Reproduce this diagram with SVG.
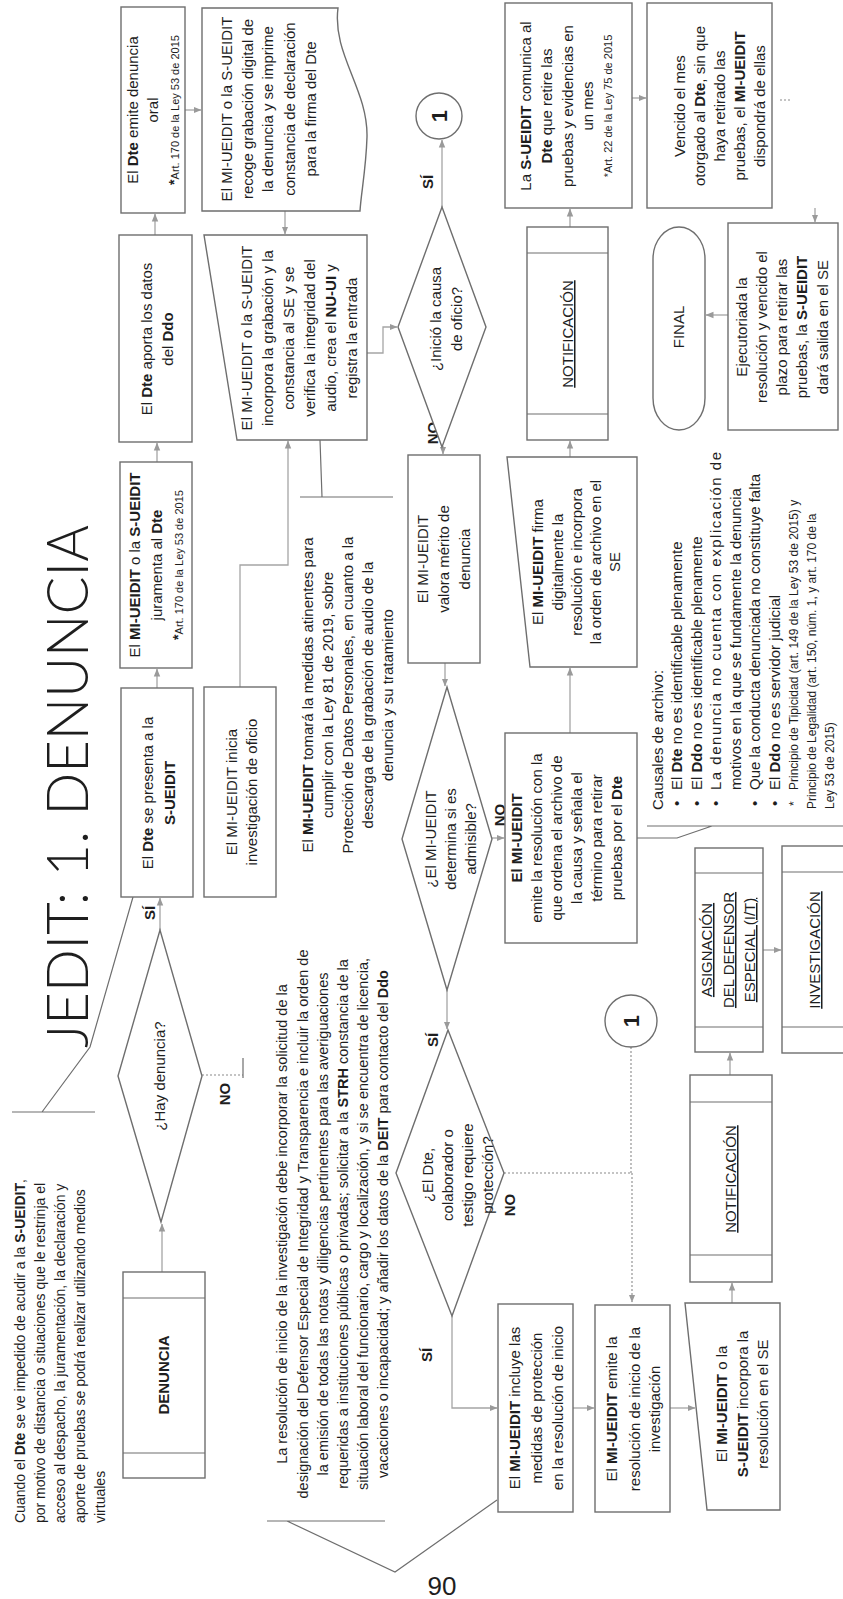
<svg xmlns="http://www.w3.org/2000/svg" width="843" height="1599" viewBox="0 0 843 1599">
<defs>
<style>
text{font-family:"Liberation Sans",Arial,sans-serif;fill:#1e1e1e;font-size:15px}
.c{text-anchor:middle}
.sm{font-size:11px}
.sm2{font-size:12px}
.p{font-size:14.5px}
.q{font-size:14px}
.b{font-weight:bold}
.u{text-decoration:underline}
.one{font-size:22px;font-weight:bold}
.ttl{font-family:Lato,"Liberation Sans",sans-serif;font-size:57px;font-weight:300}
.box{fill:#fff;stroke:#6e6e6e;stroke-width:1.4}
.ln{fill:none;stroke:#6e6e6e;stroke-width:1.2}
.ar{fill:none;stroke:#a5a5a5;stroke-width:1.3;marker-end:url(#ah)}
.ard{fill:none;stroke:#8a8a8a;stroke-width:1.1;stroke-dasharray:2 2;marker-end:url(#ah)}
.dl{fill:none;stroke:#8a8a8a;stroke-width:1.1;stroke-dasharray:2 2}
.lbl{font-weight:bold;font-size:15px}
</style>
<marker id="ah" viewBox="0 0 8 8" markerWidth="8" markerHeight="8" refX="7.5" refY="4" orient="auto" markerUnits="userSpaceOnUse"><path d="M0,0.8 L8,4 L0,7.2 Z" fill="#9a9a9a"/></marker>
</defs>
<rect width="843" height="1599" fill="#fff"/>
<g id="page" transform="translate(0,1599) rotate(-90)">
<text id="title" class="ttl" x="551" y="88" textLength="523" lengthAdjust="spacingAndGlyphs">JEDIT: 1. DENUNCIA</text>

<g id="connectors">
<path class="ar" d="M327,162 H375"/>
<path class="ar" d="M669,160 H701"/>
<path class="dl" d="M524,202 V243"/>
<path class="ln" d="M521,243 H541"/>
<path class="ar" d="M911,157 H930"/>
<path class="ar" d="M1137,157 H1156"/>
<path class="ar" d="M1364,155 H1385"/>
<path class="ar" d="M1489,185 V201"/>
<path class="ar" d="M1388,285 H1365"/>
<path class="ar" d="M912,240 H1034 V288 H1158"/>
<path class="ar" d="M1246,367 V383 H1272 V397"/>
<path class="ar" d="M1392,442 H1459"/>
<path class="ar" d="M1153,443 H1145"/>
<path class="ar" d="M936,445 H913"/>
<path class="ar" d="M761,492 V504"/>
<path class="ar" d="M609,447 H570"/>
<path class="ar" d="M283,452 H191 V497"/>
<path class="ard" d="M426,504 V632 H297"/>
<path class="dl" d="M552,631 H426"/>
<path class="ar" d="M191,573 V594"/>
<path class="ar" d="M191,670 V695"/>
<path class="ar" d="M296,732 H316"/>
<path class="ar" d="M524,730 H546"/>
<path class="ar" d="M649,763 V781"/>
<path class="ar" d="M866,570 H931"/>
<path class="ar" d="M1142,570 H1158"/>
<path class="ar" d="M1372,570 H1390"/>
<path class="ar" d="M1501,632 V646"/>
<path class="ar" d="M1391,815 H1377"/>
<path class="ar" d="M1284,728 V706"/>
<path class="dl" d="M1499,780 V790"/>
<text class="lbl c" x="686" y="155">SÍ</text>
<text class="lbl c" x="505" y="230">NO</text>
<text class="lbl c" x="1417" y="433">SÍ</text>
<text class="lbl c" x="1166" y="438">NO</text>
<text class="lbl c" x="784" y="505">NO</text>
<text class="lbl c" x="559" y="438">SÍ</text>
<text class="lbl c" x="244" y="432">SÍ</text>
<text class="lbl c" x="394" y="515">NO</text>
</g>

<g id="notes">
<path class="ln" d="M487,12 V95 M487,42 L552,90 L702,133"/>
<text class="q" x="76" y="25">Cuando el <tspan class="b">Dte</tspan> se ve impedido de acudir a la <tspan class="b">S-UEIDIT</tspan>,</text>
<text class="q" x="76" y="45">por motivo de distancia o situaciones que le restrinja el</text>
<text class="q" x="76" y="65">acceso al despacho, la juramentación, la declaración y</text>
<text class="q" x="76" y="85">aporte de pruebas se podrá realizar utilizando medios</text>
<text class="q" x="76" y="105">virtuales</text>

<path class="ln" d="M78,267 V385 M78,287 L27,395 L99,497"/>
<text class="p c" x="375" y="287">La resolución de inicio de la investigación debe incorporar la solicitud de la</text>
<text class="p c" x="375" y="308">designación del Defensor Especial de Integridad y Transparencia e incluir la orden de</text>
<text class="p c" x="375" y="328">la emisión de todas las notas y diligencias pertinentes para las averiguaciones</text>
<text class="p c" x="375" y="348">requeridas a instituciones públicas o privadas; solicitar a la <tspan class="b">STRH</tspan> constancia de la</text>
<text class="p c" x="375" y="368">situación laboral del funcionario, cargo y localización, y si se encuentra de licencia,</text>
<text class="p c" x="375" y="388">vacaciones o incapacidad; y añadir los datos de la <tspan class="b">DEIT</tspan> para contacto del <tspan class="b">Ddo</tspan></text>

<path class="ln" d="M1102,300 V393 M1102,322 L1159,320"/>
<text class="c" x="904" y="313">El <tspan class="b">MI-UEIDIT</tspan> tomará la medidas atinentes para</text>
<text class="c" x="904" y="333">cumplir con la Ley 81 de 2019, sobre</text>
<text class="c" x="904" y="353">Protección de Datos Personales, en cuanto a la</text>
<text class="c" x="904" y="373">descarga de la grabación de audio de la</text>
<text class="c" x="904" y="393">denuncia y su tratamiento</text>

<path class="ln" d="M773,647 V850 M773,712 L761,677 V637"/>
<text x="789" y="663">Causales de archivo:</text>
<text x="793" y="682">•</text><text x="809" y="682">El <tspan class="b">Dte</tspan> no es identificable plenamente</text>
<text x="793" y="702">•</text><text x="809" y="702">El <tspan class="b">Ddo</tspan> no es identificable plenamente</text>
<text x="793" y="721">•</text><text x="809" y="721" textLength="338" lengthAdjust="spacing">La denuncia no cuenta con explicación de</text>
<text x="809" y="741">motivos en la que se fundamente la denuncia</text>
<text x="793" y="760">•</text><text x="809" y="760">Que la conducta denunciada no constituye falta</text>
<text x="793" y="780">•</text><text x="809" y="780">El <tspan class="b">Ddo</tspan> no es servidor judicial</text>
<text class="sm2" x="793" y="798">*</text><text class="sm2" x="809" y="798">Principio de Tipicidad (art. 149 de la Ley 53 de 2015) y</text>
<text class="sm2" x="790" y="816">Principio de Legalidad (art. 150, núm. 1, y art. 170 de la</text>
<text class="sm2" x="790" y="834">Ley 53 de 2015)</text>
</g>

<g id="n-denuncia"><rect class="box" x="121" y="123" width="206" height="82"/><path class="ln" d="M146,123 V205 M301,123 V205"/><text class="c b" x="224" y="169">DENUNCIA</text></g>
<g id="n-hay"><polygon class="box" points="377,161 523,118 669,160 523,202"/><text class="c" x="523" y="165">¿Hay denuncia?</text></g>
<g id="n-presenta"><rect class="box" x="702" y="121" width="209" height="72"/><text class="c" x="806" y="153">El <tspan class="b">Dte</tspan> se presenta a la</text><text class="c b" x="806" y="175">S-UEIDIT</text></g>
<g id="n-juramenta"><rect class="box" x="931" y="120" width="206" height="72"/><text class="c" x="1034" y="140">El <tspan class="b">MI-UEIDIT</tspan> o la <tspan class="b">S-UEIDIT</tspan></text><text class="c" x="1034" y="162">juramenta al <tspan class="b">Dte</tspan></text><text class="c sm" x="1034" y="183"><tspan font-weight="bold" font-size="14">*</tspan>Art. 170 de la Ley 53 de 2015</text></g>
<g id="n-aporta"><rect class="box" x="1157" y="119" width="207" height="73"/><text class="c" x="1260" y="152">El <tspan class="b">Dte</tspan> aporta los datos</text><text class="c" x="1260" y="173">del <tspan class="b">Ddo</tspan></text></g>
<g id="n-emite-oral"><rect class="box" x="1386" y="121" width="206" height="64"/><text class="c" x="1489" y="138">El <tspan class="b">Dte</tspan> emite denuncia</text><text class="c" x="1489" y="158">oral</text><text class="c sm" x="1489" y="179"><tspan font-weight="bold" font-size="14">*</tspan>Art. 170 de la Ley 53 de 2015</text></g>
<g id="n-recoge"><path class="box" d="M1388,202 H1591 V338 C1545,332 1510,368 1462,367 C1430,366 1405,361 1388,360 Z"/>
<text class="c" x="1490" y="232">El MI-UEIDIT o la S-UEIDIT</text>
<text class="c" x="1490" y="253">recoge grabación digital de</text>
<text class="c" x="1490" y="273">la denuncia y se imprime</text>
<text class="c" x="1490" y="295">constancia de declaración</text>
<text class="c" x="1490" y="316">para la firma del Dte</text></g>
<g id="n-incorpora"><polygon class="box" points="1159,237 1364,204 1364,367 1159,367"/>
<text class="c" x="1261" y="252">El MI-UEIDIT o la S-UEIDIT</text>
<text class="c" x="1261" y="273">incorpora la grabación y la</text>
<text class="c" x="1261" y="294">constancia al SE y se</text>
<text class="c" x="1261" y="315">verifica la integridad del</text>
<text class="c" x="1261" y="336">audio, crea el <tspan class="b">NU-UI</tspan> y</text>
<text class="c" x="1261" y="357">registra la entrada</text></g>
<g id="n-inicia"><rect class="box" x="702" y="204" width="210" height="72"/><text class="c" x="807" y="237">El MI-UEIDIT inicia</text><text class="c" x="807" y="257">investigación de oficio</text></g>
<g id="n-inicio-causa"><polygon class="box" points="1152,442 1272,398 1392,442 1272,486"/><text class="c" x="1280" y="441">¿Inició la causa</text><text class="c" x="1280" y="462">de oficio?</text></g>
<g id="n-c1a"><circle class="box" cx="1483" cy="439" r="23"/><text class="c one" x="1483" y="447">1</text></g>
<g id="n-valora"><rect class="box" x="936" y="408" width="208" height="72"/><text class="c" x="1040" y="428">El MI-UEIDIT</text><text class="c" x="1040" y="449">valora mérito de</text><text class="c" x="1040" y="470">denuncia</text></g>
<g id="n-admisible"><polygon class="box" points="609,447 760,402 912,447 760,492"/><text class="c" x="760" y="436">¿El MI-UEIDIT</text><text class="c" x="760" y="456">determina si es</text><text class="c" x="760" y="476">admisible?</text></g>
<g id="n-archivo"><rect class="box" x="656" y="505" width="210" height="132"/>
<text class="c b" x="761" y="522">El MI-UEIDIT</text>
<text class="c" x="761" y="542">emite la resolución con la</text>
<text class="c" x="761" y="562">que ordena el archivo de</text>
<text class="c" x="761" y="582">la causa y señala el</text>
<text class="c" x="761" y="602">término para retirar</text>
<text class="c" x="761" y="622">pruebas por el <tspan class="b">Dte</tspan></text></g>
<g id="n-firma"><polygon class="box" points="932,530 1142,507 1142,637 932,637"/>
<text class="c" x="1037" y="543">El <tspan class="b">MI-UEIDIT</tspan> firma</text>
<text class="c" x="1037" y="563">digitalmente la</text>
<text class="c" x="1037" y="582">resolución e incorpora</text>
<text class="c" x="1037" y="601">la orden de archivo en el</text>
<text class="c" x="1037" y="620">SE</text></g>
<g id="n-notif-a"><rect class="box" x="1159" y="527" width="213" height="81"/><path class="ln" d="M1185,527 V608 M1346,527 V608"/><text class="c u" x="1265" y="573">NOTIFICACIÓN</text></g>
<g id="n-comunica"><rect class="box" x="1391" y="505" width="205" height="127"/>
<text class="c" x="1493" y="531">La <tspan class="b">S-UEIDIT</tspan> comunica al</text>
<text class="c" x="1493" y="552"><tspan class="b">Dte</tspan> que retire las</text>
<text class="c" x="1493" y="573">pruebas y evidencias en</text>
<text class="c" x="1493" y="593">un mes</text>
<text class="c sm" x="1493" y="612">*Art. 22 de la Ley 75 de 2015</text></g>
<g id="n-vencido"><rect class="box" x="1391" y="647" width="205" height="125"/>
<text class="c" x="1493" y="685">Vencido el mes</text>
<text class="c" x="1493" y="705">otorgado al <tspan class="b">Dte</tspan>, sin que</text>
<text class="c" x="1493" y="725">haya retirado las</text>
<text class="c" x="1493" y="745">pruebas, el <tspan class="b">MI-UEIDIT</tspan></text>
<text class="c" x="1493" y="765">dispondrá de ellas</text></g>
<g id="n-final"><rect class="box" x="1169" y="653" width="203" height="52" rx="32" ry="26"/><text class="c" x="1272" y="684">FINAL</text></g>
<g id="n-ejecutoriada"><rect class="box" x="1169" y="728" width="207" height="110"/>
<text class="c" x="1272" y="747">Ejecutoriada la</text>
<text class="c" x="1272" y="767">resolución y vencido el</text>
<text class="c" x="1272" y="787">plazo para retirar las</text>
<text class="c" x="1272" y="807">pruebas, la <tspan class="b">S-UEIDIT</tspan></text>
<text class="c" x="1272" y="828">dará salida en el SE</text></g>
<g id="n-proteccion"><polygon class="box" points="283,452 426,396 569,448 426,504"/>
<text class="c" x="424" y="433">¿El Dte,</text>
<text class="c" x="424" y="453">colaborador o</text>
<text class="c" x="424" y="473">testigo requiere</text>
<text class="c" x="424" y="493">protección?</text></g>
<g id="n-incluye"><rect class="box" x="87" y="498" width="208" height="75"/>
<text class="c" x="191" y="520">El <tspan class="b">MI-UEIDIT</tspan> incluye las</text>
<text class="c" x="191" y="542">medidas de protección</text>
<text class="c" x="191" y="563">en la resolución de inicio</text></g>
<g id="n-emite-inicio"><rect class="box" x="87" y="595" width="207" height="75"/>
<text class="c" x="190" y="617">El <tspan class="b">MI-UEIDIT</tspan> emite la</text>
<text class="c" x="190" y="640">resolución de inicio de la</text>
<text class="c" x="190" y="660">investigación</text></g>
<g id="n-incorpora-res"><polygon class="box" points="89,707 296,685 296,780 89,780"/>
<text class="c" x="195" y="727">El <tspan class="b">MI-UEIDIT</tspan> o la</text>
<text class="c" x="195" y="748"><tspan class="b">S-UEIDIT</tspan> incorpora la</text>
<text class="c" x="195" y="768">resolución en el SE</text></g>
<g id="n-notif-b"><rect class="box" x="317" y="690" width="207" height="82"/><path class="ln" d="M344,690 V772 M497,690 V772"/><text class="c u" x="420" y="736">NOTIFICACIÓN</text></g>
<g id="n-asign"><rect class="box" x="547" y="695" width="204" height="68"/><path class="ln" d="M572,695 V763 M726,695 V763"/>
<text class="c u" x="649" y="712">ASIGNACIÓN</text>
<text class="c u" x="649" y="734">DEL DEFENSOR</text>
<text class="c u" x="649" y="755">ESPECIAL (I/T)</text></g>
<g id="n-invest"><rect class="box" x="546" y="782" width="207" height="72"/><path class="ln" d="M572,782 V854 M727,782 V854"/><text class="c u" x="649" y="820">INVESTIGACIÓN</text></g>
<g id="n-c1b"><circle class="box" cx="578" cy="631" r="26"/><text class="c one" x="578" y="639">1</text></g>
</g>
<text id="pagenum" x="442" y="1595" text-anchor="middle" style="font-size:26px">90</text>
</svg>
